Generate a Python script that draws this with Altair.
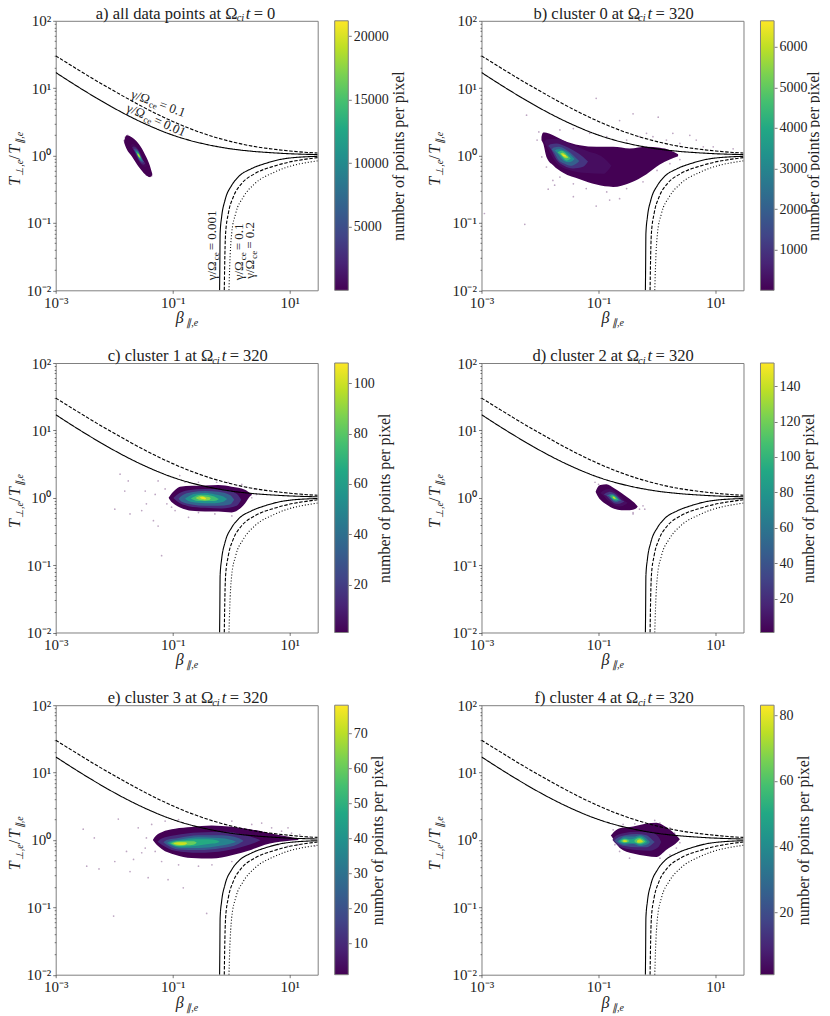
import math
import altair as alt
import numpy as np
import pandas as pd

FONT = 'Liberation Serif'
INK = '#222222'
FRAME = '#808080'

# threshold curves (same in all panels)
beta_up = [0.001, 0.002, 0.005, 0.01, 0.02, 0.05, 0.1, 0.2, 0.5, 1, 2, 5, 10, 20, 30]
t_solid_up = [17.1, 11.6, 7.12, 5.04, 3.67, 2.54, 2.01, 1.67, 1.39, 1.255, 1.17, 1.10, 1.064, 1.042, 1.033]
t_dash_up = [30.2, 20.8, 12.8, 9.05, 6.46, 4.26, 3.21, 2.50, 1.90, 1.61, 1.41, 1.25, 1.17, 1.11, 1.09]
beta_solid_low = [0.632, 0.638, 0.645, 0.685, 0.782, 1.02, 1.32, 2.23, 3.77, 8.28, 30]
t_solid_low = [0.01, 0.0222, 0.0695, 0.123, 0.217, 0.363, 0.482, 0.641, 0.76, 0.90, 0.975]
beta_dash_low = [0.76, 0.771, 0.80, 0.891, 1.084, 1.507, 2.54, 5.58, 30]
t_dash_low = [0.01, 0.0222, 0.0695, 0.138, 0.243, 0.384, 0.54, 0.703, 0.933]
beta_dot_low = [0.914, 0.94, 1.016, 1.19, 1.61, 2.54, 5.58, 30]
t_dot_low = [0.01, 0.0222, 0.0695, 0.138, 0.243, 0.384, 0.572, 0.834]

curves = [
    (beta_up, t_solid_up, [1, 0]),
    (beta_up, t_dash_up, [3.5, 1.6]),
    (beta_solid_low, t_solid_low, [1, 0]),
    (beta_dash_low, t_dash_low, [3.5, 1.6]),
    (beta_dot_low, t_dot_low, [1, 2]),
]

# density levels: (points per pixel, log10 beta, log10 T upper edge, log10 T lower edge)
levels_a = [
    (1, [-1.83, -1.79, -1.70, -1.58, -1.47, -1.39, -1.35], [.22, .30, .27, .17, .01, -.15, -.27], [.19, .10, -.01, -.17, -.28, -.32, -.29]),
    (300, [-1.72, -1.685, -1.635, -1.58, -1.525, -1.475, -1.44], [.15, .17, .15, .09, -.01, -.11, -.15], [.15, .10, .01, -.09, -.15, -.17, -.15]),
    (2000, [-1.695, -1.665, -1.625, -1.58, -1.535, -1.495, -1.465], [.115, .135, .12, .07, -.01, -.09, -.115], [.115, .08, .01, -.07, -.12, -.135, -.115]),
    (4500, [-1.67, -1.645, -1.615, -1.58, -1.545, -1.515, -1.49], [.09, .105, .095, .055, -.01, -.07, -.09], [.09, .065, .01, -.055, -.095, -.105, -.09]),
    (8500, [-1.65, -1.63, -1.605, -1.58, -1.555, -1.53, -1.51], [.07, .08, .07, .04, -.01, -.05, -.07], [.07, .05, .01, -.04, -.07, -.08, -.07]),
    (13000, [-1.63, -1.615, -1.60, -1.58, -1.56, -1.545, -1.53], [.05, .055, .05, .03, -.005, -.04, -.05], [.05, .035, .005, -.03, -.05, -.055, -.05]),
    (17000, [-1.61, -1.60, -1.58, -1.56, -1.55], [.03, .035, .02, -.005, -.03], [.03, .01, -.02, -.035, -.03]),
    (20500, [-1.60, -1.59, -1.58, -1.57, -1.56], [.015, .018, .01, -.004, -.015], [.015, .004, -.01, -.018, -.015]),
]
levels_b = [
    (1, [-1.975, -1.946, -1.89, -1.776, -1.605, -1.32, -1.035, -.75, -.466, -.18, .047, .218, .36],
     [.277, .342, .337, .302, .228, .153, .129, .129, .104, .129, .114, .08, .02],
     [.228, .178, -.02, -.144, -.257, -.351, -.431, -.465, -.406, -.277, -.134, -.06, -.01]),
    (200, [-1.93, -1.89, -1.719, -1.48, -1.206, -.921, -.78], [.20, .24, .25, .17, .07, -.03, -.15], [.20, .14, -.11, -.22, -.26, -.27, -.15]),
    (1000, [-1.86, -1.821, -1.719, -1.588, -1.434, -1.263, -1.18], [.14, .168, .178, .144, .079, -.02, -.09], [.14, .104, -.059, -.153, -.193, -.168, -.09]),
    (2000, [-1.80, -1.764, -1.679, -1.588, -1.48, -1.377, -1.33], [.09, .119, .129, .104, .04, -.045, -.08], [.09, .054, -.069, -.119, -.153, -.119, -.08]),
    (3200, [-1.75, -1.719, -1.657, -1.588, -1.514, -1.446, -1.41], [.07, .089, .094, .074, .04, -.02, -.05], [.07, .05, -.02, -.079, -.099, -.079, -.05]),
    (4500, [-1.70, -1.679, -1.634, -1.588, -1.543, -1.497, -1.475], [.045, .06, .07, .055, .02, -.02, -.04], [.045, .03, -.01, -.055, -.075, -.06, -.04]),
    (5700, [-1.655, -1.64, -1.611, -1.588, -1.56, -1.53, -1.515], [.025, .035, .04, .03, .01, -.015, -.025], [.025, .015, -.01, -.03, -.04, -.035, -.025]),
    (6600, [-1.625, -1.617, -1.60, -1.588, -1.571, -1.554, -1.545], [.01, .015, .015, .01, .005, -.005, -.01], [.01, .005, -.005, -.01, -.015, -.015, -.01]),
]
levels_c = [
    (1, [-1.07, -1.047, -.961, -.876, -.677, -.449, -.221, .007, .235, .331, .36],
     [0, .03, .114, .163, .178, .183, .188, .163, .119, .064, .045],
     [0, -.035, -.104, -.144, -.193, -.203, -.203, -.218, -.084, .03, .045]),
    (15, [-.99, -.933, -.733, -.449, -.164, .092, .17], [-.005, .04, .11, .13, .125, .06, -.03], [-.005, -.05, -.125, -.15, -.16, -.12, -.03]),
    (35, [-.90, -.847, -.677, -.449, -.221, -.022, .05], [-.015, .03, .08, .10, .09, .04, -.03], [-.015, -.06, -.10, -.12, -.12, -.10, -.03]),
    (55, [-.79, -.733, -.62, -.449, -.278, -.135, -.07], [-.015, .02, .06, .07, .05, .02, -.02], [-.015, -.05, -.07, -.08, -.08, -.06, -.02]),
    (75, [-.69, -.648, -.563, -.449, -.335, -.25, -.21], [-.01, .01, .04, .045, .03, 0, -.02], [-.01, -.03, -.05, -.05, -.05, -.04, -.02]),
    (90, [-.61, -.58, -.517, -.449, -.38, -.35], [-.005, .01, .03, .02, .01, -.01], [-.005, -.02, -.035, -.04, -.035, -.01]),
    (105, [-.54, -.517, -.483, -.449, -.43], [0, .01, .015, .005, -.01], [0, -.01, -.02, -.025, -.01]),
]
levels_d = [
    (1, [-1.05, -1.02, -.967, -.864, -.733, -.608, -.466, -.36, -.33], [.09, .15, .19, .20, .14, .07, -.02, -.10, -.13], [.09, .035, -.03, -.10, -.165, -.185, -.185, -.16, -.13]),
    (6, [-.97, -.93, -.83, -.733, -.635, -.54, -.50], [.07, .10, .13, .10, .03, -.055, -.075], [.07, .045, -.05, -.11, -.13, -.10, -.075]),
    (25, [-.91, -.873, -.803, -.733, -.663, -.593, -.56], [.05, .07, .09, .07, .02, -.04, -.055], [.05, .035, -.03, -.08, -.09, -.07, -.055]),
    (56, [-.86, -.83, -.78, -.733, -.685, -.635, -.61], [.035, .045, .06, .05, .015, -.03, -.04], [.035, .025, -.02, -.055, -.06, -.045, -.04]),
    (98, [-.815, -.795, -.765, -.733, -.70, -.67, -.655], [.025, .03, .04, .03, .01, -.02, -.025], [.025, .015, -.015, -.035, -.04, -.03, -.025]),
    (140, [-.77, -.76, -.745, -.733, -.72, -.705, -.695], [.01, .013, .018, .014, .004, -.008, -.01], [.01, .008, -.006, -.016, -.018, -.013, -.01]),
]
levels_e = [
    (1, [-1.34, -1.314, -1.189, -.961, -.677, -.335, .007, .349, .576, .918, 1.146],
     [0, .037, .116, .166, .191, .215, .196, .156, .116, .057, .017],
     [0, -.03, -.134, -.218, -.267, -.277, -.228, -.144, -.07, -.02, 0]),
    (10, [-1.26, -1.189, -.961, -.561, -.107, .235, .405, .50], [-.025, .02, .07, .11, .12, .07, .03, -.005], [-.025, -.07, -.16, -.19, -.16, -.09, -.04, -.005]),
    (22, [-1.16, -1.104, -.904, -.561, -.164, .12, .21], [-.035, 0, .03, .07, .07, .03, -.015], [-.035, -.07, -.14, -.15, -.12, -.06, -.015]),
    (35, [-1.10, -1.047, -.847, -.561, -.221, .007, .08], [-.045, -.02, .01, .04, .03, 0, -.025], [-.045, -.07, -.12, -.12, -.09, -.05, -.025]),
    (48, [-1.06, -1.018, -.847, -.62, -.392, -.25, -.2], [-.05, -.03, -.01, .01, .01, -.005, -.025], [-.05, -.07, -.10, -.09, -.06, -.045, -.025]),
    (60, [-1.03, -.99, -.876, -.762, -.648, -.59], [-.05, -.035, -.02, -.02, -.02, -.04], [-.05, -.07, -.09, -.08, -.07, -.04]),
    (72, [-.99, -.961, -.876, -.79, -.75], [-.05, -.04, -.035, -.035, -.05], [-.05, -.065, -.075, -.07, -.05]),
]
levels_f = [
    (1, [-.79, -.768, -.637, -.409, -.181, -.01, .161, .36, .39], [.065, .089, .173, .198, .243, .257, .188, .04, .01], [.065, .04, -.119, -.203, -.238, -.252, -.144, -.02, .01]),
    (8, [-.76, -.733, -.58, -.352, -.124, .018, .07], [0, .04, .10, .12, .12, .05, -.03], [0, -.03, -.12, -.15, -.16, -.11, -.03]),
    (20, [-.73, -.694, -.551, -.34, -.181, -.079, -.04], [-.01, .02, .07, .09, .07, 0, -.03], [-.01, -.04, -.09, -.11, -.11, -.06, -.03]),
    (35, [-.68, -.648, -.551, -.409, -.295, -.153, -.12], [-.02, 0, .05, .05, .07, 0, -.03], [-.02, -.04, -.07, -.06, -.09, -.06, -.03]),
    (50, [-.65, -.625, -.551, -.466, -.363, -.295, -.198, -.17], [-.015, 0, .025, .01, .03, .05, 0, -.025], [-.015, -.035, -.05, -.04, -.05, -.07, -.05, -.025]),
    (62, [-.62, -.597, -.551, -.494, -.47], [-.015, 0, .015, 0, -.015], [-.015, -.03, -.04, -.03, -.015]),
    (62, [-.39, -.363, -.295, -.227, -.2], [-.015, .01, .03, 0, -.02], [-.015, -.04, -.055, -.04, -.02]),
    (76, [-.59, -.574, -.546, -.517, -.505], [-.015, -.005, 0, -.01, -.017], [-.015, -.025, -.03, -.025, -.017]),
    (76, [-.345, -.329, -.29, -.255, -.24], [-.02, 0, .01, -.01, -.022], [-.02, -.04, -.04, -.035, -.022]),
]

# stray points around each cloud (log10 beta, log10 T)
stray_a_x = [-1.81, -1.83, -1.36, -1.39, -1.77, -1.74, -1.45]
stray_a_y = [.27, .22, -.30, -.31, .30, .27, -.29]
stray_b_x = [-2.95, -2.26, -2.23, -1.86, -1.78, -1.75, -1.43, -1.04, -1.04, -.81, -.64, .02, -.64, -.41, -.18, .27, .56, .67, .79, .96, 1.3, .39, .16, -.07, -.3, -.52, -.86, -1.15, -1.43, -1.66, -2.02, -2.05, -1.97, -1.89, -1.66, -1.43, -1.21, -.86, -.52, -.24, 0, .22, .39]
stray_b_y = [-.86, -1.02, .6, -.5, -.37, -.44, -.61, .85, -.75, -.66, -.64, .57, .52, .62, .33, .33, .3, .23, .13, .13, .1, .18, .23, .28, .28, .23, .28, .33, .4, .38, .35, .23, -.02, -.17, -.32, -.42, -.49, -.54, -.49, -.39, -.22, -.12, -.06]
stray_c_x = [-1.99, -1.9, -1.82, -1.76, -1.73, -1.53, -1.45, -1.3, -1.25, -1.19, -1.33, -1.13, -1.1, -1.25, -.88, -.73, -.79, -.56, -1.02, -.96, -1.47, .35, .43, .4, .18, -.05, -.25, -.28, -.56, .01]
stray_c_y = [-.17, .35, .1, .25, -.24, -.19, -.09, .05, -.42, -.86, -.34, .13, -.09, .25, .33, -.29, .23, .23, -.14, -.19, .1, 0, .05, .13, .2, .23, .23, -.24, -.22, -.27]
stray_d_x = [-.24, -.21, -.3, -.41, -1.06, -1.0, -.41, -.52]
stray_d_y = [-.12, -.17, -.17, -.22, .23, .2, -.24, -.17]
stray_e_x = [-2.53, -2.47, -2.34, -2.26, -2.01, -1.99, -1.93, -1.79, -1.67, -1.73, -1.53, -1.45, -1.47, -1.42, -1.08, -.82, -.42, -1.59, -1.36, -1.13, -.9, -.56, -.33, .01, .52, .35, .69, .86, 1.03, 1.17, 1.32, .97, .8, .97, 1.15, 1.43, .01, -1.3, -1.19, -.9]
stray_e_y = [.16, -.39, .03, -.43, -1.13, -.32, .31, -.17, -.29, -.47, -.19, .03, -.12, -.56, -.59, -.71, -1.09, .18, .23, .28, .3, -.39, -.37, .28, .25, .23, .18, .13, .1, .08, .03, .18, -.07, -.09, -.07, -.09, -.32, -.17, -.32, -.37]
stray_f_x = [-.04, .05, .22, .3, .39, .33, .22, .05, -.47, -.64, -.72, -.58, -.75, -.38, .1, .25, .16]
stray_f_y = [.29, .25, .18, .1, -.04, -.12, -.22, -.27, -.27, -.17, -.07, .23, .15, .24, -.17, -.02, -.12]

# colorbar ranges and ticks
range_a = [1, 21200]
range_b = [1, 6640]
range_c = [1, 108]
range_d = [1, 153]
range_e = [1, 78]
range_f = [1, 83]
ticks_a = [5000, 10000, 15000, 20000]
ticks_b = [1000, 2000, 3000, 4000, 5000, 6000]
ticks_c = [20, 40, 60, 80, 100]
ticks_d = [20, 40, 60, 80, 100, 120, 140]
ticks_e = [10, 20, 30, 40, 50, 60, 70]
ticks_f = [20, 40, 60, 80]
viridis_stops = ['#440154', '#482475', '#414487', '#355f8d', '#2a788e', '#21918c', '#22a884', '#44bf70', '#7ad151', '#bddf26', '#fde725']

x_ticks = [0.001, 0.1, 10]
y_major = [0.01, 0.1, 1, 10, 100]
y_minor = [m * 10.0 ** e for e in (-2, -1, 0, 1) for m in range(2, 10)]
label_map = "{'0.001': '10⁻³', '0.01': '10⁻²', '0.1': '10⁻¹', '1': '10⁰', '10': '10¹', '100': '10²'}"

W, H = 262, 269.5
x_scale = alt.Scale(type='log', domain=[0.001, 30], nice=False)
y_scale = alt.Scale(type='log', domain=[0.01, 100], nice=False)
x_axis = alt.Axis(values=x_ticks, title=None, grid=False, domain=False, labelOverlap=False, labelFlush=False,
                  tickSize=3, labelPadding=2, labelExpr=f"{label_map}['' + datum.value] || ''")
y_axis = alt.Axis(values=y_major + y_minor, title=None, grid=False, domain=False, labelOverlap=False,
                  tickSize={'condition': {'test': 'indexof([0.01, 0.1, 1, 10, 100], datum.value) >= 0', 'value': 3}, 'value': 1.5},
                  labelPadding=2, labelExpr=f"{label_map}['' + datum.value] || ''")


def run(x, y, parts, angle=0):
    # a line of mixed text, each piece placed along a baseline turned by angle
    a = math.radians(angle)
    out = []
    for text, along, across, size, style in parts:
        out.append(alt.Chart(pd.DataFrame({'t': [text]})).mark_text(
            font=FONT, fontSize=size, fontStyle=style, angle=angle % 360,
            align='left', baseline='alphabetic', color=INK
        ).encode(
            x=alt.value(x + along * math.cos(a) - across * math.sin(a)),
            y=alt.value(y + along * math.sin(a) + across * math.cos(a)),
            text='t:N'
        ))
    return out


def gamma(value, size=13):
    return [('γ/Ω', 0, 0, size, 'normal'), ('ce', 20, 2.5, size - 4, 'normal'), (f'= {value}', 30, 0, size, 'normal')]


def panel(levels, stray_x, stray_y, rng, ticks, head, ytitle_x, title_pad=2, extra=()):
    blobs = []
    for val, xs, ups, lows in levels:
        blobs.append(alt.Chart(pd.DataFrame({
            'val': val, 'b': 10 ** np.array(xs), 'hi': 10 ** np.array(ups), 'lo': 10 ** np.array(lows)
        })).mark_area(interpolate='monotone', clip=True, opacity=1).encode(
            x=alt.X('b:Q', scale=x_scale, axis=x_axis),
            y=alt.Y('hi:Q', scale=y_scale, axis=y_axis, stack=False),
            y2='lo:Q',
            color=alt.Color('val:Q', scale=alt.Scale(scheme='viridis', domain=rng), legend=None)
        ))
    dots = alt.Chart(pd.DataFrame({'b': 10 ** np.array(stray_x), 't': 10 ** np.array(stray_y)})).mark_circle(
        size=3, color='#440154', opacity=0.35, clip=True
    ).encode(
        x=alt.X('b:Q', scale=x_scale, axis=x_axis),
        y=alt.Y('t:Q', scale=y_scale, axis=y_axis)
    )
    lines = [alt.Chart(pd.DataFrame({'b': bs, 't': ts})).mark_line(
        color='black', strokeWidth=1.1, strokeDash=dash, interpolate='monotone', clip=True
    ).encode(
        x=alt.X('b:Q', scale=x_scale, axis=x_axis),
        y=alt.Y('t:Q', scale=y_scale, axis=y_axis)
    ) for bs, ts, dash in curves]
    texts = run(0, -2, head)
    texts += run(120, H + 33, [('β', 0, 0, 16, 'italic'), ('∥,e', 10.5, 3, 10, 'italic')])
    texts += run(ytitle_x, 165, [('T', 0, 0, 16, 'italic'), ('⊥,e', 10, 3, 10, 'italic'), ('/', 26, 0, 16, 'normal'),
                                 ('T', 32, 0, 16, 'italic'), ('∥,e', 42, 3, 10, 'italic')], angle=-90)
    texts += list(extra)
    plot = alt.layer(*blobs, dots, *lines, *texts)
    bar = alt.Chart(pd.DataFrame({'lo': [rng[0]], 'hi': [rng[1]]})).mark_rect(
        fill=alt.Gradient(gradient='linear', x1=0, y1=1, x2=0, y2=0,
                          stops=[alt.GradientStop(offset=i / 10, color=c) for i, c in enumerate(viridis_stops)]),
        stroke=FRAME, strokeWidth=1
    ).encode(
        x=alt.value(W + 17),
        x2=alt.value(W + 30.6),
        y=alt.Y('lo:Q', scale=alt.Scale(domain=rng, nice=False, zero=False),
                axis=alt.Axis(orient='right', offset=30.6, values=ticks, format='d', grid=False, domain=False,
                              tickSize=3, labelPadding=2, labelOverlap=False, labelFlush=False, labelFontSize=14,
                              title='number of points per pixel', titleFontSize=16, titleAngle=270,
                              titleBaseline='top', titlePadding=title_pad)),
        y2='hi:Q'
    )
    return alt.layer(plot, bar).resolve_scale(y='independent').properties(width=W, height=H)


def head(start, first, sub_at, t_at, rest):
    return [(first, start, 0, 16.5, 'normal'), ('ci', sub_at, 2.5, 10.5, 'italic'),
            ('t', t_at, 0, 16.5, 'italic'), (rest, t_at + 8, 0, 16.5, 'normal')]


marks_a = (run(74.5, 76.8, gamma('0.1'), angle=20) + run(69.8, 90.2, gamma('0.01'), angle=24)
           + run(160.8, 259.5, gamma('0.001'), angle=-90) + run(187.5, 259.5, gamma('0.1'), angle=-90)
           + run(198.5, 258, gamma('0.2'), angle=-90))

p_a = panel(levels_a, stray_a_x, stray_a_y, range_a, ticks_a, head(40, 'a) all data points at Ω', 181, 190, '= 0'), -35.5, extra=marks_a)
p_b = panel(levels_b, stray_b_x, stray_b_y, range_b, ticks_b, head(52, 'b) cluster 0 at Ω', 156.5, 166, '= 320'), -41, title_pad=-2)
p_c = panel(levels_c, stray_c_x, stray_c_y, range_c, ticks_c, head(52, 'c) cluster 1 at Ω', 156.5, 166, '= 320'), -35.5)
p_d = panel(levels_d, stray_d_x, stray_d_y, range_d, ticks_d, head(51, 'd) cluster 2 at Ω', 156.5, 166, '= 320'), -41, title_pad=0)
p_e = panel(levels_e, stray_e_x, stray_e_y, range_e, ticks_e, head(52, 'e) cluster 3 at Ω', 156.5, 166, '= 320'), -35.5)
p_f = panel(levels_f, stray_f_x, stray_f_y, range_f, ticks_f, head(53, 'f) cluster 4 at Ω', 156.5, 166, '= 320'), -41)

chart = alt.concat(
    p_a, p_b, p_c, p_d, p_e, p_f, columns=2, bounds='flush',
    spacing=alt.RowColnumber(column=163.8, row=72.2)
).resolve_scale(
    color='independent'
).properties(
    padding={'left': -1.3, 'top': -3.2, 'right': -1.5, 'bottom': 0}
).configure_view(
    stroke=FRAME, strokeWidth=1
).configure_axis(
    labelFont=FONT, labelFontSize=15, labelColor=INK, titleFont=FONT, titleFontSize=16.5,
    titleColor=INK, titleFontWeight='normal', tickColor=INK, tickWidth=0.6
)

chart.save('out.html', embed_options={'renderer': 'svg', 'actions': False})
